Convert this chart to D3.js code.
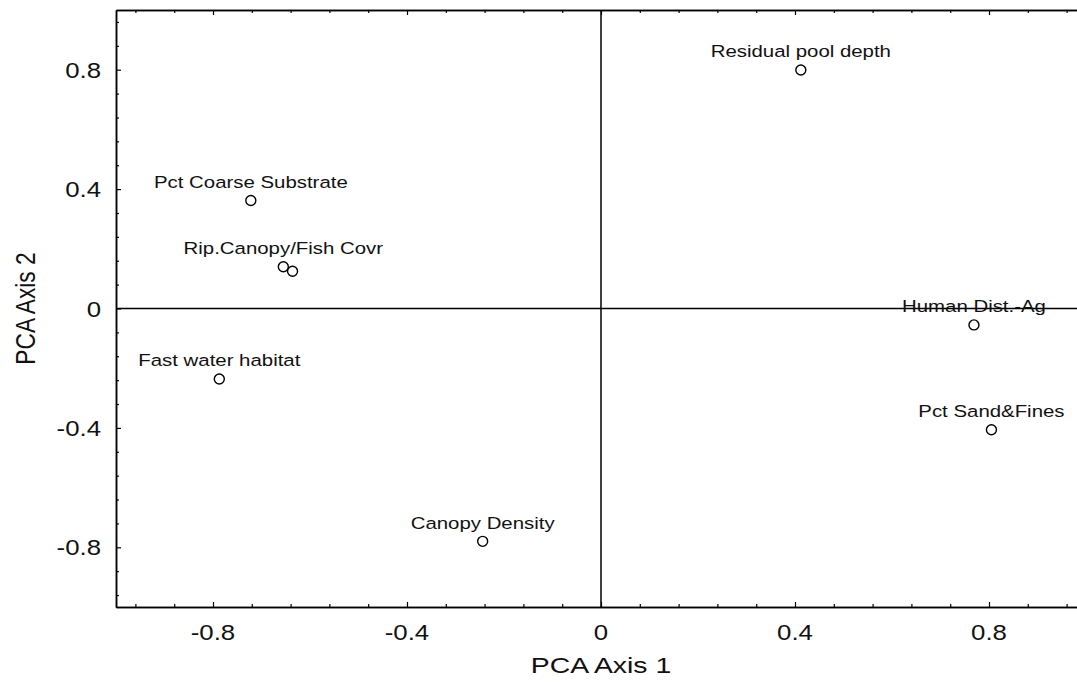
<!DOCTYPE html>
<html>
<head>
<meta charset="utf-8">
<script src="https://cdn.jsdelivr.net/npm/d3@7"></script>
<style>
  html, body { margin: 0; padding: 0; background: #fff; }
  svg { display: block; font-family: "Liberation Sans", Arial, sans-serif; }
</style>
</head>
<body>
<div id="chart"></div>
<script>
// PCA loadings
const variables = ["Residual pool depth", "Pct Coarse Substrate", "Rip.Canopy/Fish Covr", "", "Fast water habitat", "Canopy Density", "Human Dist.-Ag", "Pct Sand&Fines"];
const axis1 = [0.412, -0.722, -0.655, -0.636, -0.787, -0.244, 0.769, 0.805];
const axis2 = [0.799, 0.362, 0.14, 0.125, -0.236, -0.78, -0.055, -0.406];

const majorTicks = [-0.8, -0.4, 0, 0.4, 0.8];
const minorTicks = [-0.96, -0.88, -0.72, -0.64, -0.56, -0.48, -0.32, -0.24, -0.16, -0.08,
                    0.08, 0.16, 0.24, 0.32, 0.48, 0.56, 0.64, 0.72, 0.88, 0.96];
const xTitle = "PCA Axis 1";
const yTitle = "PCA Axis 2";

const W = 1077, H = 687;
const svg = d3.select('#chart').append('svg').attr('width', W).attr('height', H);

const x = d3.scaleLinear().domain([-1, 1]).range([116, 1086]);
const y = d3.scaleLinear().domain([-1, 1]).range([607, 10]);
const fmt = d => d === 0 ? '0' : d.toFixed(1);

// the original is stretched sideways, so text is a bit wider than tall
const SX = 1.25;
const stretch = (sel, sx) => sel.attr('transform', function () {
  const t = d3.select(this);
  return `translate(${t.attr('data-x')},${t.attr('data-y')}) scale(${sx},1)`;
});

function tickAxis(g, axisFn, scale, vals, size) {
  g.call(axisFn(scale).tickValues(vals).tickSize(-size).tickSizeOuter(0).tickFormat(''));
  g.select('.domain').attr('stroke', '#000').attr('stroke-width', 1.5);
  g.selectAll('.tick line').attr('stroke', '#000').attr('stroke-width', 1.2);
}

// bottom, top and left frame with inward ticks
tickAxis(svg.append('g').attr('transform', `translate(0,${y(-1)})`), d3.axisBottom, x, minorTicks, 3);
tickAxis(svg.append('g').attr('transform', `translate(0,${y(-1)})`), d3.axisBottom, x, majorTicks, 5);
tickAxis(svg.append('g').attr('transform', `translate(0,${y(1)})`), d3.axisTop, x, minorTicks, 3);
tickAxis(svg.append('g').attr('transform', `translate(0,${y(1)})`), d3.axisTop, x, majorTicks, 5);
tickAxis(svg.append('g').attr('transform', `translate(${x(-1)},0)`), d3.axisLeft, y, minorTicks, 3);
tickAxis(svg.append('g').attr('transform', `translate(${x(-1)},0)`), d3.axisLeft, y, majorTicks, 5);

// zero lines
svg.append('line').attr('x1', x(0)).attr('x2', x(0)).attr('y1', y(1)).attr('y2', y(-1))
  .attr('stroke', '#000').attr('stroke-width', 1.5);
svg.append('line').attr('x1', x(-1)).attr('x2', x(1)).attr('y1', y(0)).attr('y2', y(0))
  .attr('stroke', '#000').attr('stroke-width', 1.5);

// tick labels
svg.selectAll('.xlab').data(majorTicks).enter().append('text')
  .attr('data-x', d => x(d)).attr('data-y', 640)
  .attr('text-anchor', 'middle').attr('font-size', 21.5).attr('fill', '#111')
  .text(fmt).call(stretch, 1.2);
svg.selectAll('.ylab').data(majorTicks).enter().append('text')
  .attr('data-x', 101).attr('data-y', d => y(d) + 8)
  .attr('text-anchor', 'end').attr('font-size', 21.5).attr('fill', '#111')
  .text(fmt).call(stretch, 1.2);

// axis titles
svg.append('text').attr('data-x', x(0)).attr('data-y', 673).attr('text-anchor', 'middle')
  .attr('font-size', 22.7).attr('fill', '#111').text(xTitle).call(stretch, SX);
svg.append('text').attr('transform', `translate(35,${y(0)}) scale(${SX},1) rotate(-90)`)
  .attr('text-anchor', 'middle')
  .attr('font-size', 22.7).attr('fill', '#111').text(yTitle);

// points
const pts = variables.map((name, i) => ({ name, a: axis1[i], b: axis2[i] }));
svg.selectAll('.pt').data(pts).enter().append('circle')
  .attr('cx', d => x(d.a)).attr('cy', d => y(d.b)).attr('r', 5)
  .attr('fill', '#fff').attr('stroke', '#000').attr('stroke-width', 1.4);

svg.selectAll('.plab').data(pts.filter(d => d.name)).enter().append('text')
  .attr('data-x', d => x(d.a)).attr('data-y', d => y(d.b) - 12.5)
  .attr('text-anchor', 'middle').attr('font-size', 17).attr('fill', '#111')
  .text(d => d.name).call(stretch, 1.2);
</script>
</body>
</html>
